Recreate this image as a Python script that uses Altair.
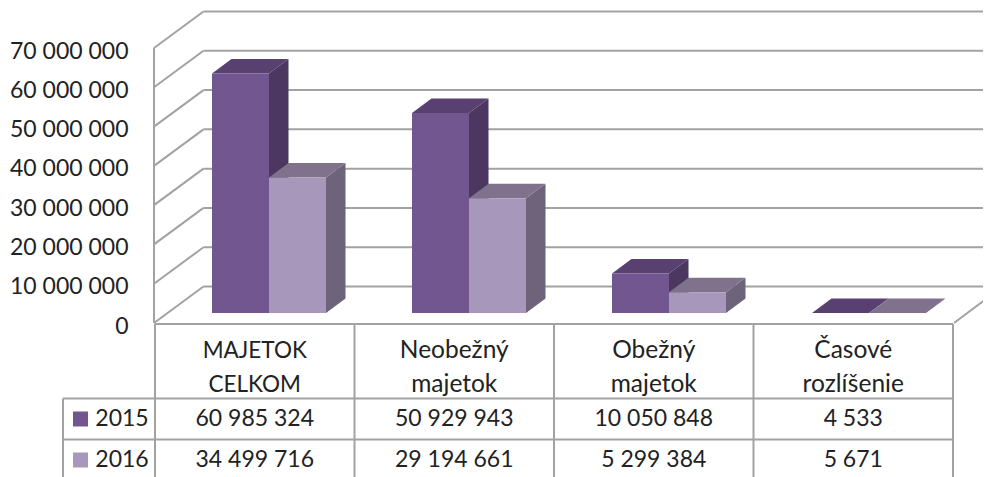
import altair as alt
import pandas as pd

categories = ["MAJETOK CELKOM", "Neobežný majetok", "Obežný majetok", "Časové rozlíšenie"]
cat_lines = [["MAJETOK", "CELKOM"], ["Neobežný", "majetok"], ["Obežný", "majetok"], ["Časové", "rozlíšenie"]]
series = ["2015", "2016"]
values_2015 = [60985324, 50929943, 10050848, 4533]
values_2016 = [34499716, 29194661, 5299384, 5671]
labels_2015 = ["60 985 324", "50 929 943", "10 050 848", "4 533"]
labels_2016 = ["34 499 716", "29 194 661", "5 299 384", "5 671"]
ticks = [0, 10000000, 20000000, 30000000, 40000000, 50000000, 60000000, 70000000]

FRONT = {"2015": "#72568f", "2016": "#a797bb"}
TOP = {"2015": "#584070", "2016": "#80718c"}
SIDE = {"2015": "#4b375f", "2016": "#6d637b"}
GRID = "#a2a2a2"
TEXT = "#222222"
FONT = "Lato"

# layout (picture pixels converted to scale units)
PX_PER_UNIT_Y = 275 / 70000000
COL_W = 199.5
X0 = 155
def X(p): return (p - X0) / COL_W
def Y(p): return (323 - p) / PX_PER_UNIT_Y
def DX(p): return p / COL_W
def DY(p): return p / PX_PER_UNIT_Y

W, H = 828, 469
xs = alt.Scale(domain=[0, W / COL_W], nice=False, zero=False)
ys = alt.Scale(domain=[Y(477), Y(8)], nice=False, zero=False)
y_axis = alt.Axis(
    values=ticks, orient="left", domain=False, ticks=False, grid=False, title=None,
    labelFont=FONT, labelFontSize=23, labelColor=TEXT, labelPadding=27, labelOffset=3,
    labelExpr="replace(format(datum.value, ',d'), /,/g, ' ')")
x_enc = alt.X("x:Q", scale=xs, axis=None)
y_enc = alt.Y("y:Q", scale=ys, axis=y_axis)

def rules(rows, width=2, color=GRID):
    df = pd.DataFrame(rows, columns=["x", "x2", "y", "y2"])
    return alt.Chart(df).mark_rule(color=color, strokeWidth=width).encode(
        x=x_enc, x2="x2:Q", y=y_enc, y2="y2:Q")

wall_dx, wall_dy = DX(48.5), DY(36.5)
right_end = W / COL_W

back = rules([[wall_dx, right_end, t + wall_dy, t + wall_dy] for t in ticks])
side_wall = rules([[0 - DX(1), wall_dx, t, t + wall_dy] for t in ticks])
front_edge = rules([[-DX(1), -DX(1), 0, ticks[-1]]])
right_floor = rules([[X(954), X(954) + wall_dx, 0, wall_dy]])

bar_w = DX(57)
gap = DX(43)
step = DX(200)
base_dx, base_dy = DX(14), DY(10)
d_x, d_y = DX(19.5), DY(14.5)

def area(points, color):
    df = pd.DataFrame(points, columns=["x", "y", "y2"])
    return alt.Chart(df).mark_area(color=color, opacity=1).encode(
        x=x_enc, y=y_enc, y2="y2:Q")

bars = []
for s, vals in zip(series, [values_2015, values_2016]):
    offset = 0 if s == "2015" else bar_w
    for i, v in enumerate(vals):
        x0 = i * step + gap + base_dx + offset
        x1 = x0 + bar_w
        b = base_dy
        t = base_dy + v
        bars.append(area([[x1, t, b], [x1 + d_x, t + d_y, b + d_y]], SIDE[s]))
        bars.append(area([[x0, t, t], [x0 + d_x, t + d_y, t],
                          [x1, t + d_y, t], [x1 + d_x, t + d_y, t + d_y]], TOP[s]))
        front = pd.DataFrame({"x": [x0], "x2": [x1], "y": [b], "y2": [t], "series": [s]})
        bars.append(alt.Chart(front).mark_rect(color=FRONT[s]).encode(
            x=x_enc, x2="x2:Q", y=y_enc, y2="y2:Q"))

# data table
bottom = Y(480)
xl = X(63)
table_rows = [
    [0, 4, Y(324), Y(324)],
    [xl, 4, Y(398.5), Y(398.5)],
    [xl, 4, Y(439.5), Y(439.5)],
    [xl, xl, Y(398.5), bottom],
]
for c in range(5):
    table_rows.append([c, c, Y(324), bottom])
table = rules(table_rows)

texts = []
for i in range(4):
    s1 = 22.5 if i == 0 else 24.5
    texts.append([i + 0.5, Y(351), cat_lines[i][0], s1])
    texts.append([i + 0.5, Y(385), cat_lines[i][1], s1])
    texts.append([i + 0.5, Y(419), labels_2015[i], 23])
    texts.append([i + 0.5, Y(460), labels_2016[i], 23])
texts.append([X(122), Y(419), series[0], 23])
texts.append([X(122), Y(460), series[1], 23])
txt_df = pd.DataFrame(texts, columns=["x", "y", "label", "size"])
txt = alt.layer(*[
    alt.Chart(txt_df[txt_df["size"] == sz]).mark_text(
        font=FONT, fontSize=sz, color=TEXT, align="center", baseline="middle").encode(
        x=x_enc, y=y_enc, text="label:N")
    for sz in sorted(txt_df["size"].unique())
])

swatches = []
for s, top_px in zip(series, [411.5, 452.5]):
    df = pd.DataFrame({"x": [X(73)], "x2": [X(88)], "y": [Y(top_px)], "y2": [Y(top_px + 15)]})
    swatches.append(alt.Chart(df).mark_rect(color=FRONT[s]).encode(
        x=x_enc, x2="x2:Q", y=y_enc, y2="y2:Q"))

chart = alt.layer(
    back, side_wall, front_edge, right_floor, *bars, table, txt, *swatches
).properties(
    width=W, height=H,
    autosize=alt.AutoSizeParams(type="none"),
    padding={"left": 147, "top": 0, "right": 0, "bottom": 0},
    background="white",
).configure_view(stroke=None)

chart.save("out.html", embed_options={"renderer": "svg", "actions": False})
